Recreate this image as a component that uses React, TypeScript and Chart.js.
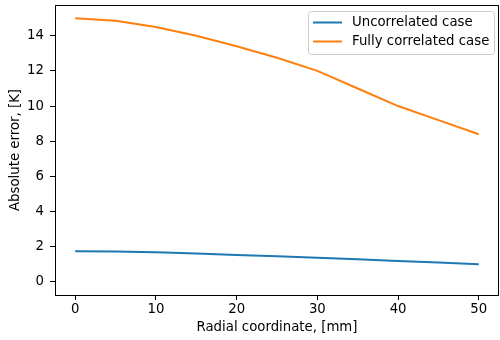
import React, { useEffect, useRef } from "react";
import { Chart, registerables } from "chart.js";

Chart.register(...registerables);

const radialCoordinates = [0, 5, 10, 15, 20, 25, 30, 35, 40, 45, 50];
const uncorrelatedErrors = [1.74, 1.72, 1.68, 1.61, 1.53, 1.45, 1.37, 1.28, 1.19, 1.1, 1.0];
const correlatedErrors = [15.0, 14.85, 14.5, 14.0, 13.4, 12.75, 12.0, 11.0, 10.0, 9.2, 8.4];
const seriesNames = ["Uncorrelated case", "Fully correlated case"];
const xTickValues = [0, 10, 20, 30, 40, 50];
const yTickValues = [0, 2, 4, 6, 8, 10, 12, 14];
const xTitle = "Radial coordinate, [mm]";
const yTitle = "Absolute error, [K]";

const FONT = "'DejaVu Sans', sans-serif";
const FS = 13.3;
const COLORS = ["#1f77b4", "#ff7f0e"];

const framePlugin = {
  id: "frameAndLegend",
  afterDraw(chart: any) {
    const { ctx, chartArea } = chart;
    ctx.save();
    ctx.strokeStyle = "#000";
    ctx.lineWidth = 1;
    ctx.strokeRect(
      Math.round(chartArea.left) + 0.5,
      Math.round(chartArea.top) + 0.5,
      Math.round(chartArea.right - chartArea.left) - 1,
      Math.round(chartArea.bottom - chartArea.top)
    );
    // legend box
    const bx = 308.5, by = 11.5, bw = 186, bh = 43;
    ctx.beginPath();
    ctx.roundRect(bx, by, bw, bh, 3);
    ctx.fillStyle = "rgba(255,255,255,0.8)";
    ctx.fill();
    ctx.strokeStyle = "#cccccc";
    ctx.lineWidth = 1;
    ctx.stroke();
    const rows = [22.5, 41.5];
    chart.data.datasets.forEach((ds: any, i: number) => {
      ctx.beginPath();
      ctx.strokeStyle = ds.borderColor;
      ctx.lineWidth = 2;
      ctx.moveTo(313, rows[i]);
      ctx.lineTo(342, rows[i]);
      ctx.stroke();
      ctx.fillStyle = "#000";
      ctx.font = `${FS}px ${FONT}`;
      ctx.textBaseline = "middle";
      ctx.textAlign = "left";
      ctx.fillText(ds.label, 352, rows[i] + 0.5);
    });
    ctx.restore();
  },
};

export default function App() {
  const ref = useRef<HTMLCanvasElement>(null);
  useEffect(() => {
    document.body.style.margin = "0";
    const canvas = ref.current!;
    const chart = new Chart(canvas, {
      type: "line",
      data: {
        datasets: [uncorrelatedErrors, correlatedErrors].map((vals, i) => ({
          label: seriesNames[i],
          data: radialCoordinates.map((x, j) => ({ x, y: vals[j] })),
          borderColor: COLORS[i],
          backgroundColor: COLORS[i],
          borderWidth: 2,
          pointRadius: 0,
          tension: 0,
          fill: false,
        })),
      },
      options: {
        responsive: false,
        animation: false,
        layout: { padding: { top: 5, right: 1, left: 0, bottom: 0 } },
        plugins: { legend: { display: false }, tooltip: { enabled: false } },
        scales: {
          x: {
            type: "linear",
            min: -2.5,
            max: 52.5,
            afterBuildTicks: (s: any) => {
              s.ticks = xTickValues.map((v) => ({ value: v }));
            },
            afterFit: (s: any) => {
              s.height = 45;
              s.paddingLeft = 0;
              s.paddingRight = 0;
            },
            grid: { drawOnChartArea: false, drawTicks: true, tickLength: 5, tickColor: "#000" },
            border: { display: false },
            ticks: { color: "#000", font: { family: FONT, size: FS }, padding: 2, maxRotation: 0, autoSkip: false },
            title: { display: true, text: xTitle, color: "#000", font: { family: FONT, size: FS }, padding: { top: 0, bottom: 4 } },
          },
          y: {
            type: "linear",
            min: -0.75,
            max: 15.75,
            afterBuildTicks: (s: any) => {
              s.ticks = yTickValues.map((v) => ({ value: v }));
            },
            afterFit: (s: any) => {
              s.width = 55;
              s.paddingTop = 0;
              s.paddingBottom = 0;
            },
            grid: { drawOnChartArea: false, drawTicks: true, tickLength: 5, tickColor: "#000" },
            border: { display: false },
            ticks: { color: "#000", font: { family: FONT, size: FS }, padding: 6, autoSkip: false },
            title: { display: true, text: yTitle, color: "#000", font: { family: FONT, size: FS }, padding: { top: 8, bottom: 0 } },
          },
        },
      },
      plugins: [framePlugin],
    });
    return () => chart.destroy();
  }, []);
  return <canvas ref={ref} width={500} height={340} style={{ display: "block" }} />;
}
